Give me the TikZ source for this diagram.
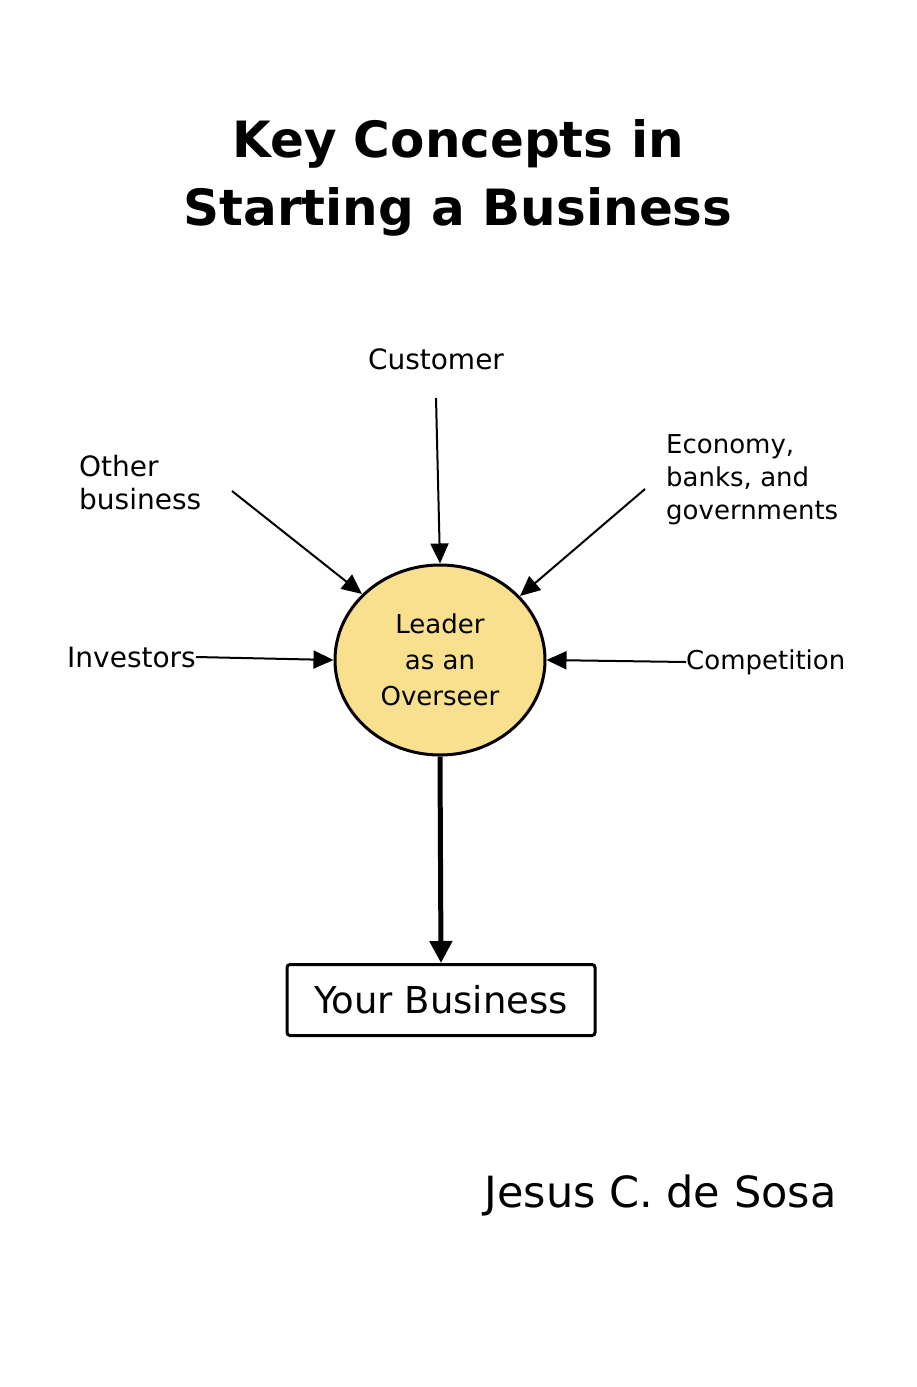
\documentclass[tikz,border=0pt]{standalone}
\usepackage{fontspec}
\setmainfont{DejaVu Sans}
\usetikzlibrary{arrows.meta,shapes.geometric}
\definecolor{leaderfill}{HTML}{F8E08E}
\begin{document}
\begin{tikzpicture}[x=1pt,y=-1pt,
  lbl/.style={font=\fontsize{28}{33}\selectfont,align=left,inner sep=0pt},
  arr/.style={line width=2pt,-{Triangle[length=20pt,width=18pt]}},
  bigarr/.style={line width=5pt,-{Triangle[length=22pt,width=22pt]}}]
\useasboundingbox (0,0) rectangle (917,1387);
\node[font=\bfseries\fontsize{50}{68}\selectfont,align=center] (title) at (458,178) {Key Concepts in\\Starting a Business};
\node[draw,line width=3pt,fill=leaderfill,ellipse,minimum width=210pt,minimum height=190pt,inner sep=0pt,align=center,font=\fontsize{26}{36}\selectfont] (c) at (440,660) {Leader\\as an\\Overseer};
\node[lbl] (cust) at (436,359) {Customer};
\node[lbl,anchor=west] (other) at (79,483) {Other\\business};
\node[lbl,anchor=west,font=\fontsize{26}{33}\selectfont] (eco) at (666,480) {Economy,\\banks, and\\governments};
\node[lbl,anchor=east] (inv) at (196,657) {Investors};
\node[lbl,anchor=west,font=\fontsize{26}{33}\selectfont] (comp) at (686,662) {Competition};
\node[draw,line width=3pt,rounded corners=3pt,minimum width=308pt,minimum height=71pt,font=\fontsize{37}{40}\selectfont] (yb) at (441,1000) {Your Business};
\node[font=\fontsize{43}{50}\selectfont,anchor=east] (auth) at (840,1195) {Jesus C. de Sosa};
\coordinate (s1) at (436,398);
\coordinate (s2) at (232,491);
\coordinate (s3) at (645,489);
\coordinate (e2) at (362,594);
\coordinate (e3) at (520,596);
\draw[arr] (s1) -- (c.north);
\draw[arr] (s2) -- (e2);
\draw[arr] (s3) -- (e3);
\draw[arr] (inv.east) -- (c.west);
\draw[arr] (comp.west) -- (c.east);
\draw[bigarr] (c.south) -- (yb.north);
\end{tikzpicture}
\end{document}
